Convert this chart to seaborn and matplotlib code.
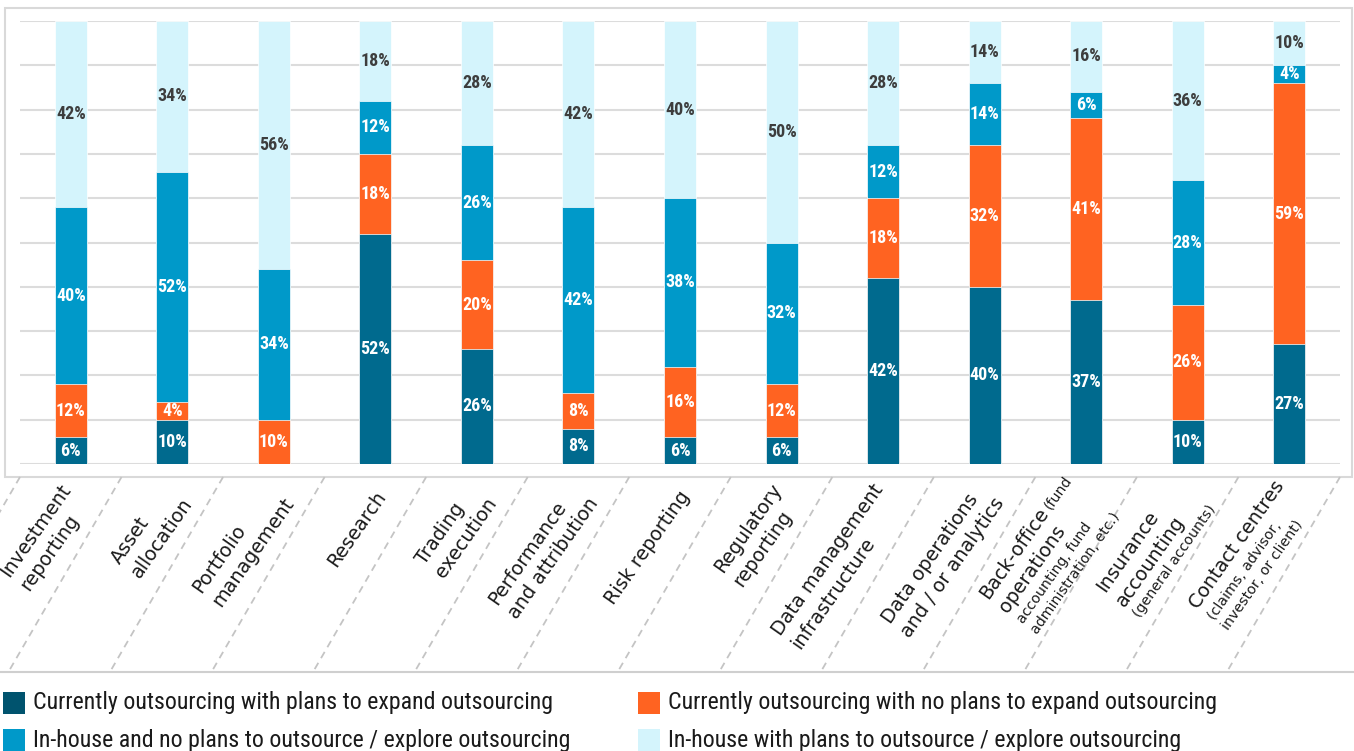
import numpy as np
import pandas as pd
import seaborn as sns
import matplotlib
matplotlib.use("Agg")
import matplotlib.pyplot as plt
from matplotlib import font_manager
from matplotlib.font_manager import FontProperties
from matplotlib.patches import Rectangle
from matplotlib.lines import Line2D

# ---- data -------------------------------------------------------------
categories = [
    "Investment reporting", "Asset allocation", "Portfolio management",
    "Research", "Trading execution", "Performance and attribution",
    "Risk reporting", "Regulatory reporting", "Data management infrastructure",
    "Data operations and / or analytics", "Back-office operations",
    "Insurance accounting", "Contact centres",
]

# category labels: lines made of (text, size-class) pieces
tick_labels = [
    [[("Investment", "big")], [("reporting", "big")]],
    [[("Asset", "big")], [("allocation", "big")]],
    [[("Portfolio", "big")], [("management", "big")]],
    [[("Research", "big")]],
    [[("Trading", "big")], [("execution", "big")]],
    [[("Performance", "big")], [("and attribution", "big")]],
    [[("Risk reporting", "big")]],
    [[("Regulatory", "big")], [("reporting", "big")]],
    [[("Data management", "big")], [("infrastructure", "big")]],
    [[("Data operations", "big")], [("and / or analytics", "big")]],
    [[("Back-office", "big"), ("(fund", "small")], [("operations", "big")],
     [("accounting, fund", "small")], [("administration, etc.)", "small")]],
    [[("Insurance", "big")], [("accounting", "big")], [("(general accounts)", "small")]],
    [[("Contact centres", "big")], [("(claims, advisor,", "small")],
     [("investor, or client)", "small")]],
]

series_names = [
    "Currently outsourcing with plans to expand outsourcing",
    "Currently outsourcing with no plans to expand outsourcing",
    "In-house and no plans to outsource / explore outsourcing",
    "In-house with plans to outsource / explore outsourcing",
]
expand_outsourcing = [6, 10, 0, 52, 26, 8, 6, 6, 42, 40, 37, 10, 27]
keep_outsourcing = [12, 4, 10, 18, 20, 8, 16, 12, 18, 32, 41, 26, 59]
inhouse_no_plans = [40, 52, 34, 12, 26, 42, 38, 32, 12, 14, 6, 28, 4]
inhouse_plans = [42, 34, 56, 18, 28, 42, 40, 50, 28, 14, 16, 36, 10]

colors = ["#006A8E", "#FF6321", "#0099C9", "#D4F4FC"]
legend_colors = ["#00536E", "#FF6321", "#0099C9", "#D4F4FC"]
label_colors = ["white", "white", "white", "#3d3d3d"]


# ---- fonts ------------------------------------------------------------
def condensed_font(bold):
    """Return a FontProperties for a condensed/narrow face, or None."""
    prefs = ["Roboto Condensed", "Liberation Sans Narrow", "Noto Sans",
             "Open Sans", "DejaVu Sans", "Lato", "Inter"]
    found = []
    for f in font_manager.fontManager.ttflist:
        name = f.name
        st = str(f.stretch).lower()
        fn = f.fname.lower()
        narrow = ("condensed" in st or "narrow" in name.lower()
                  or "condensed" in name.lower() or "condensed" in fn
                  or "narrow" in fn)
        if not narrow or "semi" in fn or "extra" in fn or "ultra" in fn:
            continue
        w = f.weight if isinstance(f.weight, int) else (700 if "bold" in str(f.weight).lower() else 400)
        is_bold = w >= 600 or "bold" in fn
        if is_bold != bold or "italic" in fn or "oblique" in fn or f.style != "normal":
            continue
        if not bold and ("light" in fn or "thin" in fn or "medium" in fn or "black" in fn):
            continue
        if bold and ("black" not in fn and "bold" not in fn and w < 600):
            continue
        rank = next((k for k, p in enumerate(prefs) if name.startswith(p)), len(prefs))
        blackish = 0 if (bold and "extrabold" not in fn and "black" not in fn) else 1
        found.append((rank, blackish, f.fname))
    if not found:
        return None
    found.sort()
    return FontProperties(fname=found[0][2])


VALUE_FP = condensed_font(True)
if VALUE_FP is None:
    VALUE_FP = FontProperties(family="Liberation Sans", weight="bold")
    VALUE_SIZE = 11.5
else:
    VALUE_SIZE = 13
LEGEND_FP = condensed_font(False) or FontProperties(family="Liberation Sans")
LABEL_FP = FontProperties(family="DejaVu Sans")

# ---- figure -----------------------------------------------------------
W, H = 1354, 751
fig = plt.figure(figsize=(W / 100, H / 100), dpi=100)
ax = fig.add_axes([20 / W, (H - 464) / H, 1320 / W, 443 / H])

values = np.array([expand_outsourcing, keep_outsourcing, inhouse_no_plans, inhouse_plans])
stack = np.cumsum(values, axis=0)

# stacked bars: draw cumulative totals from the top series downwards
for i in reversed(range(len(series_names))):
    frame = pd.DataFrame({"category": categories, "top": stack[i]})
    sns.barplot(data=frame, x="category", y="top", order=categories,
                color=colors[i], saturation=1, width=0.315, errorbar=None,
                edgecolor="white", linewidth=0.5, ax=ax)

ax.set_xlim(-0.5, len(categories) - 0.5)
ax.set_ylim(0, 100)
ax.set_yticks(np.arange(0, 101, 10))
ax.grid(axis="y", color="#dcdcdc", linewidth=1.5)
ax.set_axisbelow(True)
ax.tick_params(length=0, labelleft=False, labelbottom=False)
ax.set_xlabel("")
ax.set_ylabel("")
for s in ax.spines.values():
    s.set_visible(False)

# value labels in the middle of each segment
for i in range(len(series_names)):
    for j in range(len(categories)):
        v = values[i, j]
        if v <= 0:
            continue
        ax.text(j, stack[i, j] - v / 2, f"{v}%", ha="center", va="center",
                color=label_colors[i], fontproperties=VALUE_FP, fontsize=VALUE_SIZE)

# outer frame around the plotting region
fig.add_artist(Rectangle((5 / W, (H - 477) / H), 1347 / W, 469 / H,
                         transform=fig.transFigure, fill=False,
                         edgecolor="#d9d9d9", linewidth=1.5))

# dashed diagonal separators between category labels
for k in range(len(categories) + 1):
    bx = ax.transData.transform((k - 0.5, 0))[0]
    fig.add_artist(Line2D([bx / W, (bx - 112) / W], [(H - 477) / H, (H - 670) / H],
                          transform=fig.transFigure, color="#c4c4c4",
                          linewidth=1.3, linestyle=(0, (4, 3))))

# rule under the label area
fig.add_artist(Line2D([0, 1], [(H - 672) / H] * 2, transform=fig.transFigure,
                      color="#cfcfcf", linewidth=1.5))

renderer = fig.canvas.get_renderer()


def text_width(s, fp, size):
    t = fig.text(0, 0, s, fontproperties=fp, fontsize=size)
    w = t.get_window_extent(renderer).width
    t.remove()
    return w


# rotated multi-line category labels
sizes = {"big": 13.8, "small": 10.2}
theta = np.deg2rad(55)
u = np.array([np.cos(theta), np.sin(theta)])
n = np.array([np.sin(theta), -np.cos(theta)])

for j, lines in enumerate(tick_labels):
    tx = ax.transData.transform((j, 0))[0]
    anchor = np.array([tx + 5, H - 492])
    info = []
    for line in lines:
        px = max(sizes[c] for _, c in line) * 100 / 72
        widths = [text_width(s, LABEL_FP, sizes[c]) for s, c in line]
        gap = 0.25 * sizes["small"] * 100 / 72
        info.append((px, widths, sum(widths) + gap * (len(line) - 1), gap))
    block_w = max(w for _, _, w, _ in info)
    heights = [1.25 * px for px, _, _, _ in info]
    block_h = sum(heights)
    cum = 0
    for line, (px, widths, lw, gap), lh in zip(lines, info, heights):
        b = cum + lh / 2 - block_h / 2 + 0.36 * px
        a = -block_w
        for (s, c), w in zip(line, widths):
            p = anchor + a * u + b * n
            fig.text(p[0] / W, p[1] / H, s, rotation=55, rotation_mode="anchor",
                     ha="left", va="baseline", fontproperties=LABEL_FP,
                     fontsize=sizes[c], color="#1a1a1a")
            a += w + gap
        cum += lh

# legend: two columns of colour squares with text
legend_size = 14 * 524 / text_width(series_names[0], LEGEND_FP, 14)
legend_pos = [(3, 703), (638, 703), (3, 740), (638, 740)]
for (lx, ly), name, col in zip(legend_pos, series_names, legend_colors):
    fig.add_artist(Rectangle((lx / W, (H - ly - 11) / H), 22 / W, 22 / H,
                             transform=fig.transFigure, facecolor=col,
                             edgecolor="none"))
    fig.text((lx + 30) / W, (H - ly) / H, name, ha="left", va="center",
             fontproperties=LEGEND_FP, fontsize=legend_size, color="#1a1a1a")

fig.savefig("out.png", dpi=100)
